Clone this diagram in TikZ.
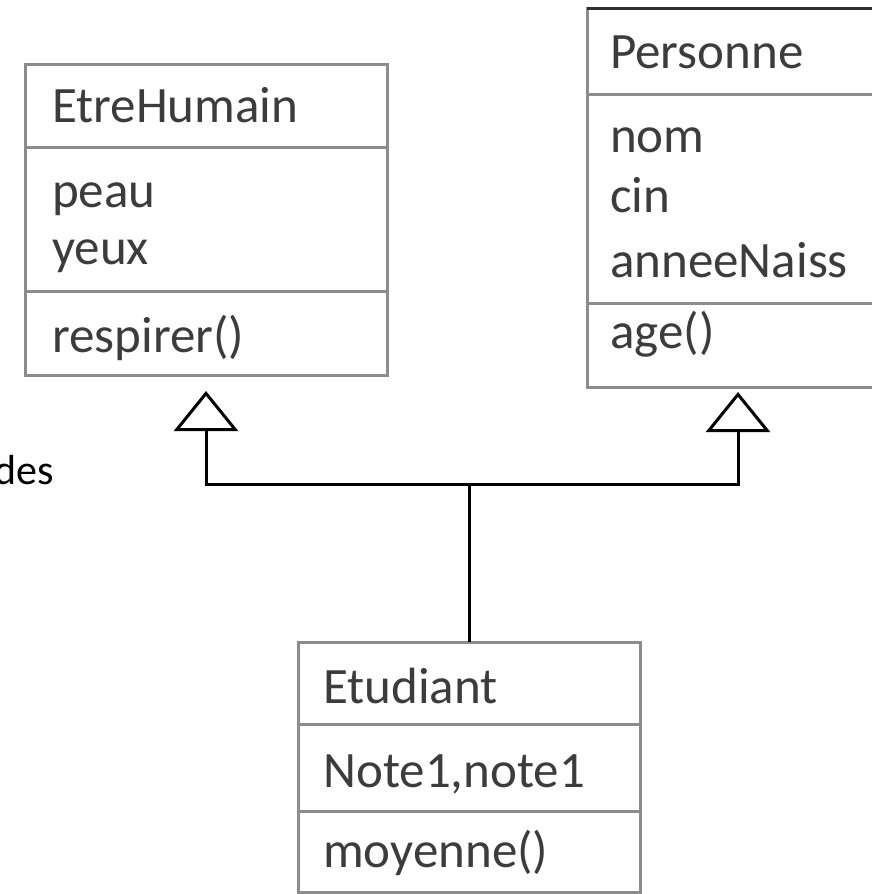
\documentclass[tikz,border=0pt]{standalone}
\usepackage{fontspec}
\setmainfont{Carlito}
\usetikzlibrary{arrows.meta,calc}
\definecolor{boxline}{HTML}{8C8C8C}
\definecolor{boxtext}{HTML}{3C3C3C}
\definecolor{topline}{HTML}{303030}
\begin{document}
\begin{tikzpicture}[x=1pt,y=-1pt,
  umlbox/.style={draw=boxline, line width=3pt, fill=white, anchor=north west,
                 inner sep=0pt, outer sep=0pt},
  divider/.style={draw=boxline, line width=3pt},
  lbl/.style={anchor=base west, inner sep=0pt, text=boxtext,
              font=\fontsize{51}{60}\selectfont},
  conn/.style={line width=3pt, black},
  gen/.style={conn, -{Triangle[open, length=40pt, width=64pt, line width=3pt]}}]

\useasboundingbox (0,0) rectangle (871,894);
\fill[white] (0,0) rectangle (871,894);

% class boxes
\node[umlbox, minimum width=362pt, minimum height=311pt] (eh) at (25,64) {};
\node[umlbox, minimum width=302pt, minimum height=379pt] (pers) at (587,8) {};
\node[umlbox, minimum width=342pt, minimum height=250pt] (etu) at (298,642) {};

% compartment separators
\coordinate (eh1) at (0,147);  \coordinate (eh2) at (0,291);
\coordinate (pe1) at (0,94);   \coordinate (pe2) at (0,303);
\coordinate (et1) at (0,724);  \coordinate (et2) at (0,811);
\draw[divider] (eh.west |- eh1) -- (eh.east |- eh1);
\draw[divider] (eh.west |- eh2) -- (eh.east |- eh2);
\draw[divider] (pers.west |- pe1) -- (pers.east |- pe1);
\draw[divider] (pers.west |- pe2) -- (pers.east |- pe2);
\draw[divider] (etu.west |- et1) -- (etu.east |- et1);
\draw[divider] (etu.west |- et2) -- (etu.east |- et2);
\draw[topline, line width=3pt] (pers.north west) -- (pers.north east);

% EtreHumain
\node[lbl] (ehname) at (52,122) {EtreHumain};
\node[lbl] (ehpeau) at (52,207) {peau};
\node[lbl] (ehyeux) at (52,264) {yeux};
\node[lbl] (ehresp) at (52,352) {respirer()};

% Personne
\node[lbl] (pename) at (610,68) {Personne};
\node[lbl] (penom)  at (610,152) {nom};
\node[lbl] (pecin)  at (610,212) {cin};
\node[lbl] (peanne) at (610,277) {anneeNaiss};
\node[lbl] (peage)  at (610,348) {age()};

% Etudiant
\node[lbl] (etname) at (323,703) {Etudiant};
\node[lbl] (etnote) at (323,787) {Note1,note1};
\node[lbl] (etmoy)  at (323,867) {moyenne()};

% stray text at the left margin
\node[anchor=base west, inner sep=0pt, font=\fontsize{42}{50}\selectfont] (des) at (-6,484) {des};

% generalisation connectors
\coordinate (lvl) at (0,484);
\coordinate (junc) at (etu.north |- lvl);
\coordinate (ehtip) at ($(eh.south)+(0,16)$);
\coordinate (petip) at ($(pers.south)+(0,5)$);
\draw[conn] (etu.north) -- (junc);
\draw[gen] (junc) -| (ehtip);
\draw[gen] (junc) -| (petip);
\end{tikzpicture}
\end{document}
